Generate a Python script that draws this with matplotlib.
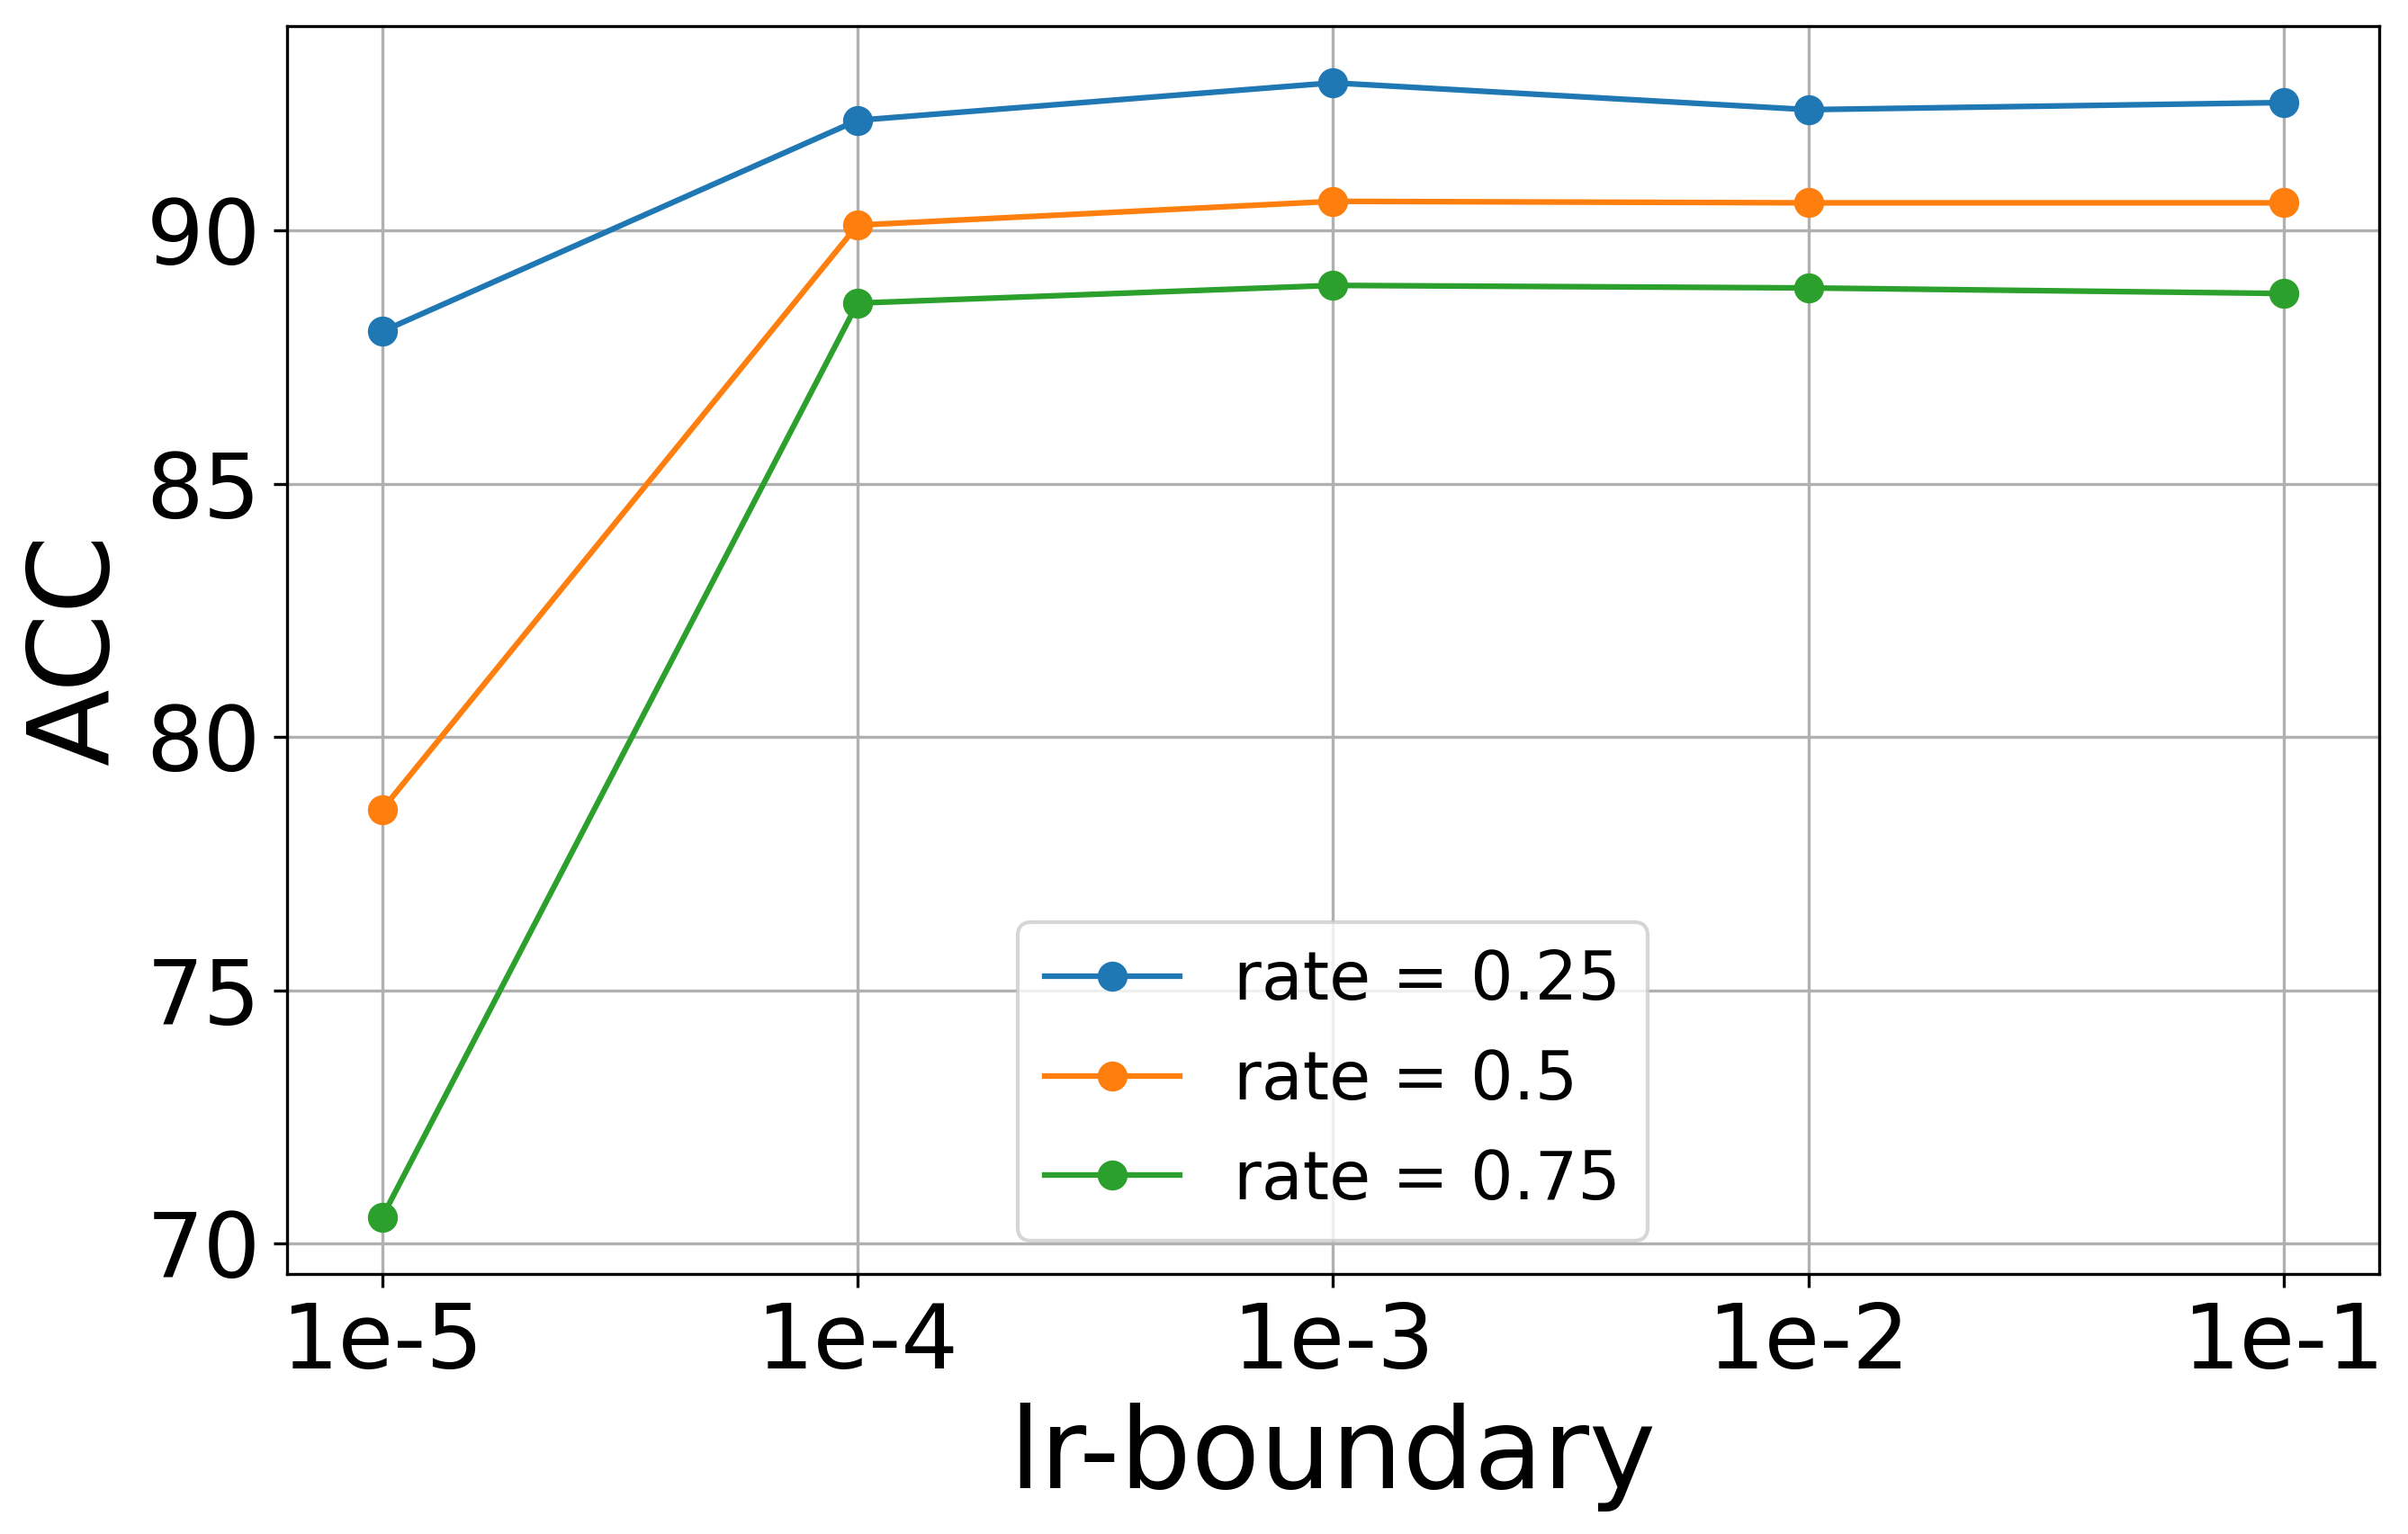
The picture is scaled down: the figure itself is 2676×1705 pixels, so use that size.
import matplotlib
matplotlib.use("Agg")
import matplotlib.pyplot as plt

lr_labels = ["1e-5", "1e-4", "1e-3", "1e-2", "1e-1"]
rate_025 = [88.01, 92.18, 92.92, 92.39, 92.53]
rate_05 = [78.57, 90.11, 90.58, 90.55, 90.55]
rate_075 = [70.52, 88.57, 88.92, 88.87, 88.76]

series = [("rate = 0.25", rate_025), ("rate = 0.5", rate_05), ("rate = 0.75", rate_075)]

fig = plt.figure(figsize=(2676 / 300, 1705 / 300), dpi=300)
ax = fig.add_axes([319 / 2676, 1 - 1416 / 1705, (2643.6 - 319) / 2676, (1416 - 29) / 1705])

x = list(range(len(lr_labels)))
for label, vals in series:
    ax.plot(x, vals, marker="o", markersize=7, linewidth=1.5, label=label)

ax.set_xticks(x)
ax.set_xticklabels(lr_labels)
ax.tick_params(axis="both", labelsize=24)
ax.set_yticks([70, 75, 80, 85, 90])
ax.set_xlabel("lr-boundary", fontsize=30)
ax.set_ylabel("ACC", fontsize=30)
ax.grid(True)
ax.legend(loc="lower center", fontsize=18)

fig.savefig("out.png", dpi=300)
